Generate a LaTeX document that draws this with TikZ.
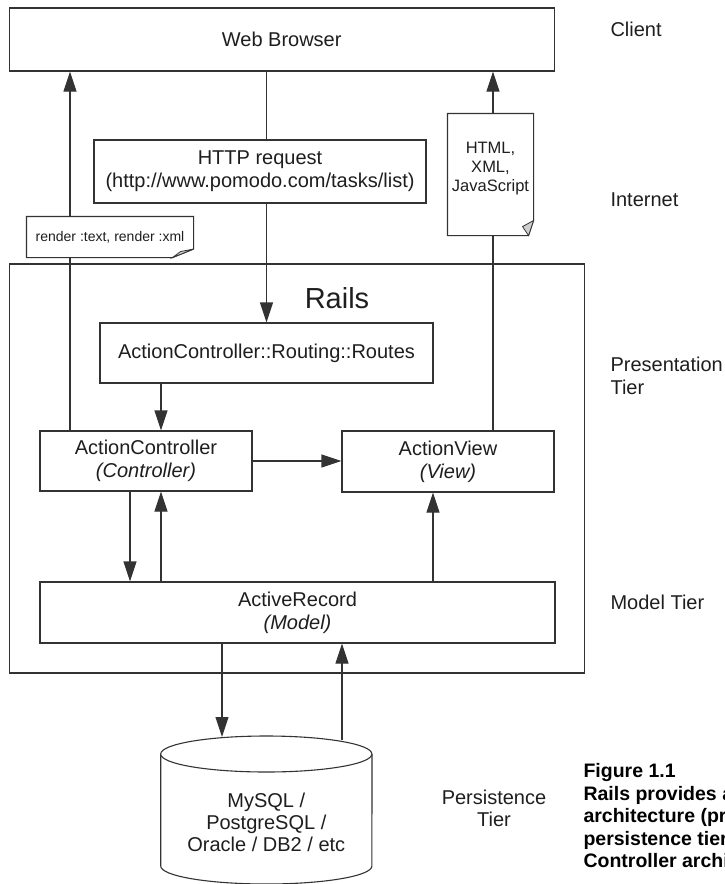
\documentclass[tikz,border=0pt]{standalone}
\usepackage{fontspec}
\setmainfont{Liberation Sans}
\usetikzlibrary{arrows.meta, positioning}
\definecolor{linec}{HTML}{333333}
\definecolor{textc}{HTML}{1E1E1E}
\definecolor{foldc}{HTML}{CFCFCF}
\tikzset{>={Triangle[length=20pt,width=13pt]}}

\begin{document}
\begin{tikzpicture}[x=1pt, y=-1pt, line width=1.1pt,
        box/.style={draw=linec, fill=white, inner sep=0pt, align=center, text=textc,
            font=\fontsize{20}{23}\selectfont},
        conn/.style={draw=linec},
        tier/.style={anchor=west, align=left, inner sep=0pt, text=textc, font=\fontsize{20}{23}\selectfont},
        capline/.style={anchor=west, align=left, inner sep=0pt, text=black, font=\bfseries\fontsize{19.5}{22.5}\selectfont}]
        \useasboundingbox (0,0) rectangle (724,884);
        \clip (0,0) rectangle (724,884);

        % lanes of the vertical connectors
        \coordinate (rendx) at (70,0);
        \coordinate (downx) at (130,0);
        \coordinate (upx) at (161,0);
        \coordinate (dbinx) at (222,0);
        \coordinate (dboutx) at (342,0);
        \coordinate (viewx) at (433,0);
        \coordinate (htmlx) at (493,0);

        \node[box, minimum width=545, minimum height=63] (wb) at (281.7,39.5) {Web Browser};
        \node[box, minimum width=332, minimum height=63] (http) at (260,171.5) {HTTP request\\(http://www.pomodo.com/tasks/list)};

        \node[draw=linec, inner sep=0pt, minimum width=574.7, minimum height=409] (rails) at (296.7,468.5) {};
        \node[text=textc, font=\fontsize{29}{32}\selectfont] (railsl) at (337,298) {Rails};

        \node[box, minimum width=333, minimum height=60] (routes) at (266.5,353) {ActionController::Routing::Routes};
        \node[box, minimum width=212, minimum height=60] (ctrl) at (146,461) {ActionController\\\textit{(Controller)}};
        \node[box, minimum width=212, minimum height=61] (view) at (448,461.5) {ActionView\\\textit{(View)}};
        \node[box, minimum width=515, minimum height=61] (ar) at (297.5,612.5) {ActiveRecord\\\textit{(Model)}};

        % request
        \draw[conn] (wb.south -| routes) -- (http.north -| routes);
        \draw[conn, ->] (http.south -| routes) -- (routes.north);
        \draw[conn, ->] (routes.south -| upx) -- (ctrl.north -| upx);

        % responses back to the browser
        \draw[conn, ->] (ctrl.north -| rendx) -- (wb.south -| rendx);
        \draw[conn, ->] (view.north -| htmlx) -- (wb.south -| htmlx);

        \node[fill=white, inner sep=0pt, minimum width=166, minimum height=40, text=textc,
            font=\fontsize{14}{16}\selectfont] (note) at (110,237) {render :text, render :xml};
        \draw[draw=linec] (note.north west) -- (note.north east) -- ([yshift=8.5pt]note.south east)
            -- ([xshift=-21pt]note.south east) -- (note.south west) -- cycle;
        \draw[draw=linec, fill=foldc, line width=0.8pt] ([yshift=8.5pt]note.south east)
            -- ([xshift=-13pt,yshift=6pt]note.south east) -- ([xshift=-21pt]note.south east) -- cycle;

        \node[fill=white, inner sep=0pt, minimum width=85, minimum height=121] (doc) at (490.5,174.5) {};
        \draw[draw=linec] (doc.north west) -- (doc.north east) -- ([yshift=15pt]doc.south east)
            -- ([xshift=-5pt]doc.south east) -- (doc.south west) -- cycle;
        \draw[draw=linec, fill=foldc, line width=0.8pt] ([yshift=15pt]doc.south east)
            -- ([xshift=-11pt,yshift=9pt]doc.south east) -- ([xshift=-5pt]doc.south east) -- cycle;
        \node[align=center, text=textc, font=\fontsize{16.5}{19}\selectfont] (docl) at (490.5,169) {HTML,\\XML,\\JavaScript};

        % inside rails
        \draw[conn, ->] (ctrl.east) -- (view.west |- ctrl.east);
        \draw[conn, ->] (ctrl.south -| downx) -- (ar.north -| downx);
        \draw[conn, ->] (ar.north -| upx) -- (ctrl.south -| upx);
        \draw[conn, ->] (ar.north -| viewx) -- (view.south -| viewx);

        % database
        \draw[draw=linec, fill=white] (160.7,754) -- (160.7,866)
            arc[start angle=180, end angle=0, x radius=105.6, y radius=18] -- (372,754);
        \draw[draw=linec, fill=white] (266.3,754) ellipse[x radius=105.6, y radius=18];
        \node[align=center, text=textc, font=\fontsize{20}{22}\selectfont] (db) at (266.3,822)
            {MySQL /\\PostgreSQL /\\Oracle / DB2 / etc};
        \coordinate (dbin) at (222,737);
        \coordinate (dbout) at (342,740);
        \draw[conn, ->] (ar.south -| dbinx) -- (dbin);
        \draw[conn, ->] (dbout) -- (ar.south -| dboutx);

        % tiers
        \node[tier] (client) at (610,29) {Client};
        \node[tier] (inet) at (610,200) {Internet};
        \node[tier] (pres) at (610,375.5) {Presentation\\Tier};
        \node[tier] (model) at (610,602) {Model Tier};
        \node[align=center, text=textc, font=\fontsize{20}{22}\selectfont] (pers) at (494,808) {Persistence\\Tier};

        \node[capline] (caption) at (583,816) {Figure 1.1\\Rails provides a\\architecture (pr\\persistence tier\\Controller archi};
\end{tikzpicture}
\end{document}
